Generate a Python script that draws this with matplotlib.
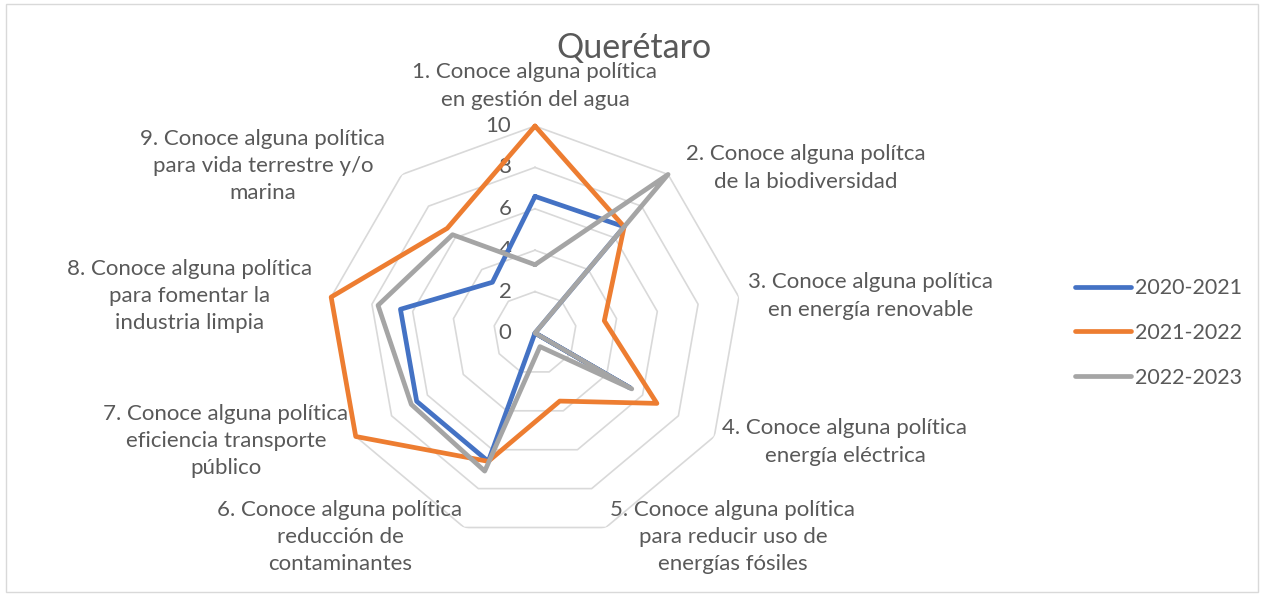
import numpy as np
import matplotlib.pyplot as plt
from matplotlib.patches import Rectangle

plt.rcParams['font.family'] = ['Lato', 'DejaVu Sans']

categories = [
    '1. Conoce alguna política\nen gestión del agua',
    '2. Conoce alguna polítca\nde la biodiversidad',
    '3. Conoce alguna política\nen energía renovable',
    '4. Conoce alguna política\nenergía eléctrica',
    '5. Conoce alguna política\npara reducir uso de\nenergías fósiles',
    '6. Conoce alguna política\nreducción de\ncontaminantes',
    '7. Conoce alguna política\neficiencia transporte\npúblico',
    '8. Conoce alguna política\npara fomentar la\nindustria limpia',
    '9. Conoce alguna política\npara vida terrestre y/o\nmarina',
]
series_names = ['2020-2021', '2021-2022', '2022-2023']
v2020 = [6.6, 6.7, 0.0, 5.3, 0.0, 6.6, 6.6, 6.6, 3.2]
v2021 = [10.0, 6.7, 3.4, 6.8, 3.5, 6.6, 10.0, 10.0, 6.6]
v2022 = [3.3, 10.0, 0.0, 5.4, 0.7, 7.1, 6.9, 7.7, 6.2]
ticks = [0, 2, 4, 6, 8, 10]
colors = ['#4472C4', '#ED7D31', '#A5A5A5']
txt = '#595959'

W, H = 1263, 596
fig = plt.figure(figsize=(W / 100, H / 100), dpi=100)
cx, cy, R = 535, 333, 207
ax = fig.add_axes([(cx - R) / W, (H - cy - R) / H, 2 * R / W, 2 * R / H], projection='polar')
ax.set_theta_offset(np.pi / 2)
ax.set_theta_direction(-1)
ax.set_ylim(0, 10)
ax.axis('off')

n = len(categories)
ang = np.linspace(0, 2 * np.pi, n, endpoint=False)
ang_c = np.append(ang, ang[0])

# rings
for t in ticks[1:]:
    ax.plot(ang_c, [t] * (n + 1), color='#D9D9D9', lw=1.2, zorder=1)
for t in ticks:
    ax.annotate(str(t), (0, t), xytext=(-17, 0), textcoords='offset points',
                ha='right', va='center', fontsize=16, color=txt)

for vals, name, c in zip([v2020, v2021, v2022], series_names, colors):
    ax.plot(ang_c, vals + vals[:1], color=c, lw=3.4, label=name,
            solid_joinstyle='round', solid_capstyle='round', zorder=3, clip_on=False)

# category labels (pixel centres)
label_pos = [(535, 86), (806, 168), (871, 296), (845, 442), (733, 537),
             (340, 537), (226, 441), (190, 296), (263, 166)]
for lab, (x, y) in zip(categories, label_pos):
    fig.text(x / W, 1 - y / H, lab, ha='center', va='center', fontsize=16,
             color=txt, linespacing=1.45)

fig.text(634 / W, 1 - 48 / H, 'Querétaro', ha='center', va='center', fontsize=24.5, color=txt)

fig.legend(loc='center left', bbox_to_anchor=(1056 / W, 1 - 333 / H), frameon=False,
           fontsize=15.5, labelcolor=txt, handlelength=2.6, handletextpad=0.15, labelspacing=1.15)

fig.patches.append(Rectangle((6 / W, 4 / H), 1252 / W, 588 / H, transform=fig.transFigure,
                             fill=False, edgecolor='#D9D9D9', lw=1))

fig.savefig('out.png', dpi=100)
